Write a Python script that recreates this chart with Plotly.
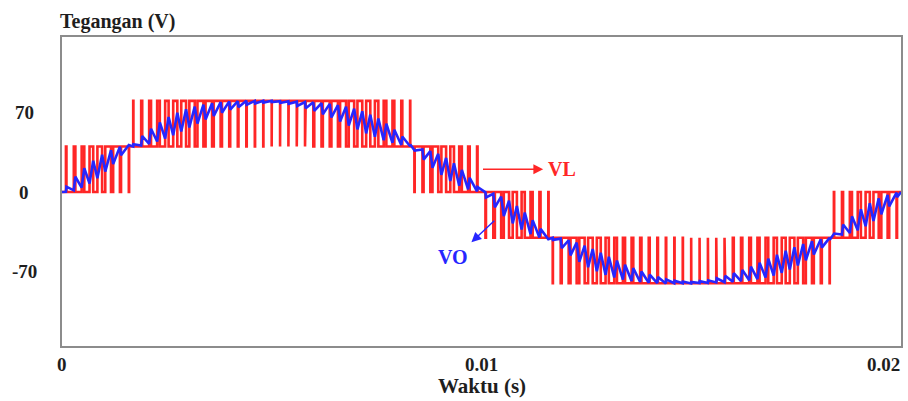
import numpy as np
import plotly.graph_objects as go

# ---- data ----
# reference (fundamental) output voltage, sampled every 0.5 ms
ref_time_ms = [0.0, 0.5, 1.0, 1.5, 2.0, 2.5, 3.0, 3.5, 4.0, 4.5, 5.0,
               5.5, 6.0, 6.5, 7.0, 7.5, 8.0, 8.5, 9.0, 9.5, 10.0,
               10.5, 11.0, 11.5, 12.0, 12.5, 13.0, 13.5, 14.0, 14.5, 15.0,
               15.5, 16.0, 16.5, 17.0, 17.5, 18.0, 18.5, 19.0, 19.5, 20.0]
ref_volts = [0, 12.5, 25, 37, 47, 56.5, 64.5, 71, 75.5, 78.5, 79.5,
             78.5, 75.5, 71, 64.5, 56.5, 47, 37, 25, 12.5, 0,
             -12.5, -25, -37, -47, -56.5, -64.5, -71, -75.5, -78.5, -79.5,
             -78.5, -75.5, -71, -64.5, -56.5, -47, -37, -25, -12.5, 0]
# inverter voltage levels (V)
level_mid = 40
level_top = 80
carrier_period_s = 0.0002
ripple_gain = 1.8

x_tick_vals = [0, 0.01, 0.02]
x_tick_text = ["0", "0.01", "0.02"]
y_tick_vals = [70, 0, -70]
y_tick_text = ["70", "0", "-70"]

# ---- build waveforms from the data ----
rt = np.array(ref_time_ms) / 1000.0
rv = np.array(ref_volts, dtype=float)
n_periods = int(round(rt[-1] / carrier_period_s))

vl_t, vl_v, vo_t, vo_v = [], [], [0.0], [0.0]
for k in range(n_periods):
    t0 = k * carrier_period_s
    t3 = t0 + carrier_period_s
    tc = t0 + carrier_period_s / 2
    r = float(np.interp(tc, rt, rv))
    s = 1.0 if r >= 0 else -1.0
    a = abs(r)
    if a < level_mid:
        lo, hi = 0.0, level_mid
    else:
        lo, hi = level_mid, level_top
    d = min(max((a - lo) / (hi - lo), 0.0), 1.0)
    t1 = tc - d * carrier_period_s / 2
    t2 = tc + d * carrier_period_s / 2
    vl_t += [t0, t1, t1, t2, t2, t3]
    vl_v += [s * lo, s * lo, s * hi, s * hi, s * lo, s * lo]
    rip = ripple_gain * d * (1 - d) * (hi - lo)
    vo_t += [t1, t2]
    vo_v += [float(np.interp(t1, rt, rv)) - s * rip / 2,
             float(np.interp(t2, rt, rv)) + s * rip / 2]
vo_t.append(rt[-1])
vo_v.append(0.0)

RED = "#ff2626"
BLUE = "#2626ff"
FONT = "Liberation Serif"
TXT = "#1e1e1e"

fig = go.Figure()
fig.add_trace(go.Scatter(x=vl_t, y=vl_v, mode="lines",
                         line=dict(color=RED, width=2.6), hoverinfo="skip"))
fig.add_trace(go.Scatter(x=vo_t, y=vo_v, mode="lines",
                         line=dict(color=BLUE, width=2.6), hoverinfo="skip"))

ann = []
for v, t in zip(x_tick_vals, x_tick_text):
    xs = -18 if v == x_tick_vals[-1] else 0
    ann.append(dict(x=v, y=0, xref="x", yref="paper", text="<b>%s</b>" % t,
                    showarrow=False, xanchor="center", yanchor="top",
                    xshift=xs, yshift=-6,
                    font=dict(family=FONT, size=19, color=TXT)))
for v, t in zip(y_tick_vals, y_tick_text):
    ann.append(dict(x=0, y=v, xref="paper", yref="y", text="<b>%s</b>" % t,
                    showarrow=False, xanchor="center", yanchor="middle",
                    xshift=-38, font=dict(family=FONT, size=19, color=TXT)))
ann.append(dict(x=0, y=1, xref="paper", yref="paper", text="<b>Tegangan (V)</b>",
                showarrow=False, xanchor="left", yanchor="bottom", xshift=-4, yshift=2,
                font=dict(family=FONT, size=20, color=TXT)))
ann.append(dict(x=0.5, y=0, xref="paper", yref="paper", text="<b>Waktu (s)</b>",
                showarrow=False, xanchor="center", yanchor="top", yshift=-26,
                font=dict(family=FONT, size=21, color=TXT)))
# VL pointer
ann.append(dict(x=0.01147, y=20, ax=0.01000, ay=20, xref="x", yref="y",
                axref="x", ayref="y", text="", showarrow=True,
                arrowhead=2, arrowsize=1.4, arrowwidth=1.4, arrowcolor=RED))
ann.append(dict(x=0.01193, y=20, xref="x", yref="y", text="<b>VL</b>",
                showarrow=False, font=dict(family=FONT, size=20, color=RED)))
# VO pointer
ann.append(dict(x=0.00976, y=-44, ax=0.01034, ay=-24, xref="x", yref="y",
                axref="x", ayref="y", text="", showarrow=True,
                arrowhead=2, arrowsize=1.4, arrowwidth=1.4, arrowcolor=BLUE))
ann.append(dict(x=0.00932, y=-57, xref="x", yref="y", text="<b>VO</b>",
                showarrow=False, font=dict(family=FONT, size=20, color=BLUE)))

fig.update_layout(
    width=908, height=401,
    margin=dict(l=62, r=5, t=37, b=55),
    paper_bgcolor="white", plot_bgcolor="white",
    showlegend=False,
    annotations=ann,
    xaxis=dict(range=[0, 0.02], showgrid=False, zeroline=False,
               showticklabels=False, ticks="",
               showline=True, mirror=True, linecolor="#8c8c8c", linewidth=2),
    yaxis=dict(range=[-135, 136], showgrid=False, zeroline=False,
               showticklabels=False, ticks="",
               showline=True, mirror=True, linecolor="#8c8c8c", linewidth=2),
)

fig.write_html("out.html")
